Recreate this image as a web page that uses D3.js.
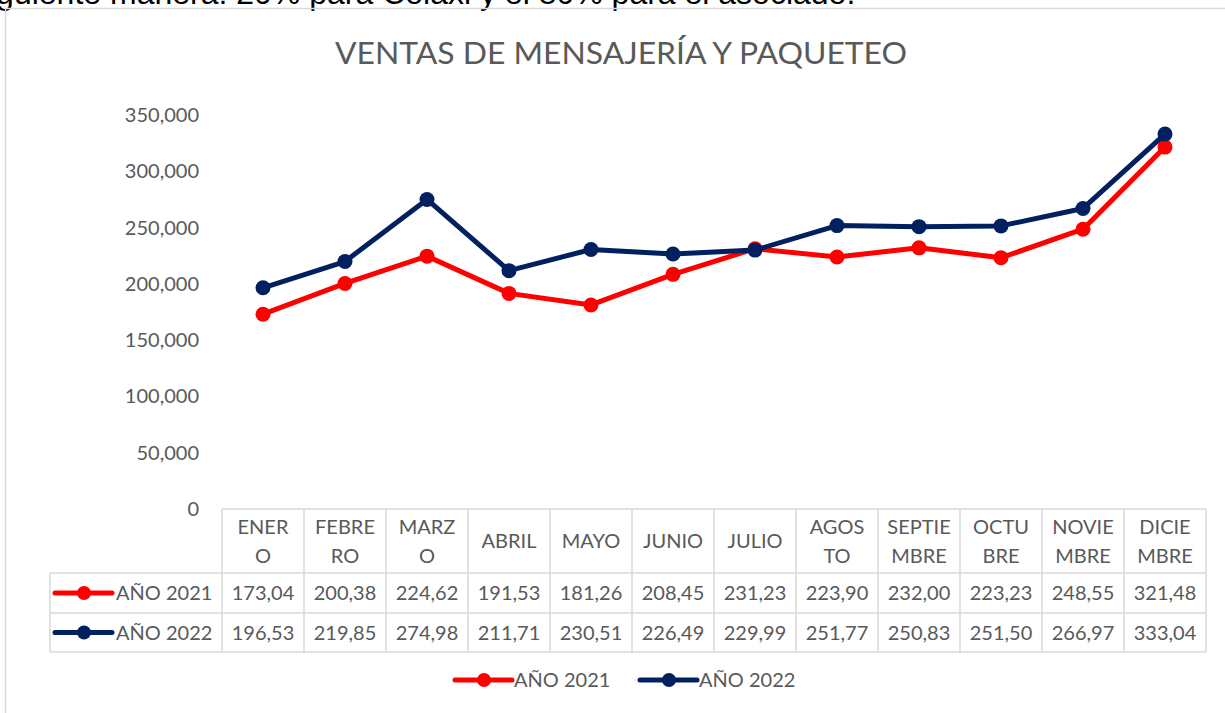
<!DOCTYPE html>
<html>
<head>
<meta charset="utf-8">
<script src="https://cdn.jsdelivr.net/npm/d3@7"></script>
<style>
  body { margin: 0; background: #fff; }
  text { font-family: Lato, "Noto Sans", sans-serif; fill: #595959; }
</style>
</head>
<body>
<div id="chart"></div>
<script>
// Months as shown in the table header (Excel wraps them inside the cell)
const months = ["ENERO", "FEBRERO", "MARZO", "ABRIL", "MAYO", "JUNIO", "JULIO",
                "AGOSTO", "SEPTIEMBRE", "OCTUBRE", "NOVIEMBRE", "DICIEMBRE"];
const monthLines = [["ENER", "O"], ["FEBRE", "RO"], ["MARZ", "O"], ["ABRIL"], ["MAYO"], ["JUNIO"],
                    ["JULIO"], ["AGOS", "TO"], ["SEPTIE", "MBRE"], ["OCTU", "BRE"], ["NOVIE", "MBRE"], ["DICIE", "MBRE"]];

const seriesNames = ["AÑO 2021", "AÑO 2022"];
const ventas2021 = [173040, 200380, 224620, 191530, 181260, 208450, 231230, 223900, 232000, 223230, 248550, 321480];
const ventas2022 = [196530, 219850, 274980, 211710, 230510, 226490, 229990, 251770, 250830, 251500, 266970, 333040];
const yTicks = [0, 50000, 100000, 150000, 200000, 250000, 300000, 350000];

const colors = ["#ff0000", "#002060"];
const series = [ventas2021, ventas2022];

const width = 1225, height = 713;
const gridColor = "#d9d9d9";

const svg = d3.select("#chart").append("svg")
    .attr("width", width)
    .attr("height", height);

// text of the page above the chart, clipped by the screenshot
svg.append("text")
    .attr("x", -27)
    .attr("y", 4)
    .style("font-family", "'Liberation Sans', Arial, sans-serif")
    .style("font-size", "32px")
    .style("fill", "#000")
    .text("siguiente manera: 20% para Colaxi y el 80% para el asociado.");

// chart area border
svg.append("rect")
    .attr("x", 5.5).attr("y", 8.5)
    .attr("width", width + 10).attr("height", height + 10)
    .attr("fill", "none")
    .attr("stroke", gridColor)
    .attr("stroke-width", 1.5);

svg.append("text")
    .attr("x", 621)
    .attr("y", 64)
    .attr("text-anchor", "middle")
    .attr("textLength", 572)
    .attr("lengthAdjust", "spacingAndGlyphs")
    .style("font-size", "31px")
    .text("VENTAS DE MENSAJERÍA Y PAQUETEO");

const x = d3.scaleBand().domain(months).range([222, 1206]);
const y = d3.scaleLinear().domain([0, 350000]).range([509, 115]);
const cx = m => x(m) + x.bandwidth() / 2;

// y axis labels
const fmtAxis = d3.format(",");
svg.append("g").selectAll("text")
  .data(yTicks)
  .join("text")
    .attr("x", 199)
    .attr("y", d => y(d))
    .attr("dy", "0.35em")
    .attr("text-anchor", "end")
    .style("font-size", "20px")
    .text(d => fmtAxis(d));

// data table
const rowTop = [509, 573, 613, 652];
const tableLeft = 50;
const tbl = svg.append("g")
    .attr("stroke", gridColor)
    .attr("stroke-width", 1.5)
    .attr("fill", "none");

tbl.append("line").attr("x1", x.range()[0]).attr("x2", x.range()[1]).attr("y1", rowTop[0]).attr("y2", rowTop[0]);
[1, 2, 3].forEach(i => {
  tbl.append("line").attr("x1", tableLeft).attr("x2", x.range()[1]).attr("y1", rowTop[i]).attr("y2", rowTop[i]);
});
tbl.append("line").attr("x1", tableLeft).attr("x2", tableLeft).attr("y1", rowTop[1]).attr("y2", rowTop[3]);
tbl.selectAll("line.v")
  .data(months.concat(["end"]))
  .join("line")
    .attr("class", "v")
    .attr("x1", d => d === "end" ? x.range()[1] : x(d))
    .attr("x2", d => d === "end" ? x.range()[1] : x(d))
    .attr("y1", rowTop[0])
    .attr("y2", rowTop[3]);

// header cells
const header = svg.append("g").selectAll("text")
  .data(months)
  .join("text")
    .attr("text-anchor", "middle")
    .style("font-size", "20px");
header.each(function(m, i) {
  const lines = monthLines[i];
  const mid = (rowTop[0] + rowTop[1]) / 2;
  const step = 29;
  const start = mid - (lines.length - 1) * step / 2;
  d3.select(this).selectAll("tspan")
    .data(lines)
    .join("tspan")
      .attr("x", cx(m))
      .attr("y", (d, j) => start + j * step)
      .attr("dy", "0.35em")
      .text(d => d);
});

// value cells
const fmtCell = d3.formatLocale({decimal: ",", thousands: "."}).format(".2f");
series.forEach((vals, s) => {
  const mid = (rowTop[s + 1] + rowTop[s + 2]) / 2;
  svg.append("g").selectAll("text")
    .data(vals)
    .join("text")
      .attr("x", (d, i) => cx(months[i]))
      .attr("y", mid)
      .attr("dy", "0.35em")
      .attr("text-anchor", "middle")
      .style("font-size", "20px")
      .text(d => fmtCell(Math.floor(d / 10) / 100));

  const key = svg.append("g").attr("transform", `translate(55,${mid})`);
  drawKey(key, colors[s]);
  key.append("text")
    .attr("x", 61)
    .attr("dy", "0.35em")
    .style("font-size", "20px")
    .text(seriesNames[s]);
});

function drawKey(g, color) {
  g.append("line")
    .attr("x1", 0).attr("x2", 57)
    .attr("stroke", color)
    .attr("stroke-width", 5)
    .attr("stroke-linecap", "round");
  g.append("circle")
    .attr("cx", 29).attr("r", 7)
    .attr("fill", color);
}

// lines and markers
const line = d3.line()
    .x((d, i) => cx(months[i]))
    .y(d => y(d));

series.forEach((vals, s) => {
  svg.append("path")
    .datum(vals)
    .attr("d", line)
    .attr("fill", "none")
    .attr("stroke", colors[s])
    .attr("stroke-width", 5)
    .attr("stroke-linejoin", "round");
  svg.append("g").selectAll("circle")
    .data(vals)
    .join("circle")
      .attr("cx", (d, i) => cx(months[i]))
      .attr("cy", d => y(d))
      .attr("r", 7.5)
      .attr("fill", colors[s]);
});

// bottom legend
const legendX = [455, 640];
seriesNames.forEach((name, s) => {
  const g = svg.append("g").attr("transform", `translate(${legendX[s]},680)`);
  drawKey(g, colors[s]);
  g.append("text")
    .attr("x", 59)
    .attr("dy", "0.35em")
    .style("font-size", "20px")
    .text(name);
});
</script>
</body>
</html>
